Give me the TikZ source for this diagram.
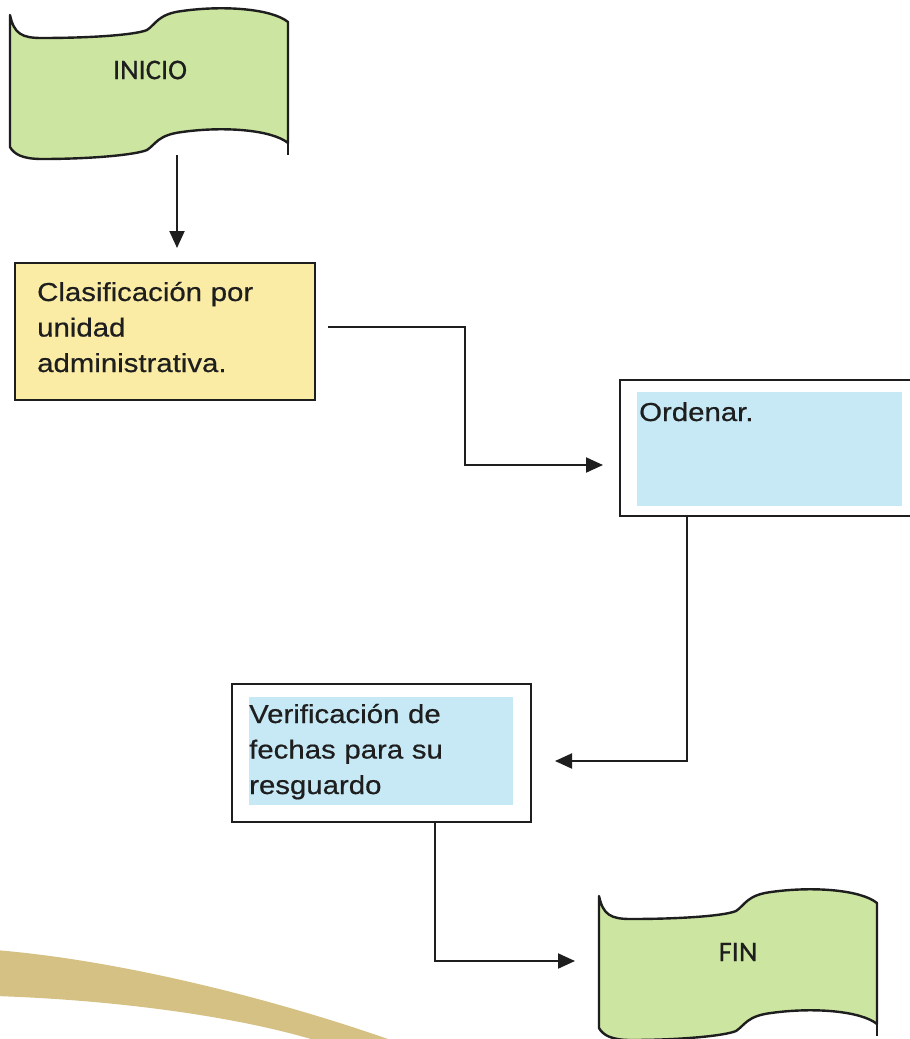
\documentclass[tikz,border=0pt]{standalone}
\usepackage{fontspec}
\setmainfont{Liberation Sans}
\newfontfamily\arialx[FakeStretch=1.13,FakeBold=0.6]{Liberation Sans}
\newfontfamily\calib[FakeBold=0.6]{Carlito}
\usetikzlibrary{arrows.meta,calc}
\definecolor{boxyellow}{RGB}{251,236,165}
\definecolor{tapegreen}{RGB}{204,229,160}
\definecolor{boxblue}{RGB}{199,233,246}
\definecolor{swooshtan}{RGB}{214,193,133}
\definecolor{ink}{RGB}{30,30,30}
\tikzset{
  tapeline/.style={draw=ink, line width=2.4pt, fill=tapegreen, line join=round},
  boxframe/.style={draw=ink, line width=2.4pt, rectangle, inner sep=0pt, outer sep=0pt, anchor=north west},
  boxtext/.style={font=\arialx\fontsize{26}{35.5}\selectfont, text=ink, inner sep=0pt, anchor=base west, text width=290pt, align=left},
  tapetext/.style={font=\calib\fontsize{28.5}{32}\selectfont, text=ink, inner sep=0pt},
  flow/.style={draw=ink, line width=2pt, -{Triangle[length=17pt,width=15pt]}},
}
\newcommand{\tapeoutline}{%
  \path[tapeline] (0,7) .. controls (4,26) and (12,30) .. (32,30)
    .. controls (80,30) and (125,27) .. (137,22)
    .. controls (146,16) and (148,6) .. (172,3)
    .. controls (215,-3) and (262,1) .. (278,14)
    -- (278,135)
    .. controls (262,122) and (215,118) .. (172,124)
    .. controls (148,127) and (146,136) .. (137,142)
    .. controls (125,147) and (80,151) .. (32,151)
    .. controls (12,151) and (4,146) .. (0,139) -- cycle;
  \draw[draw=ink, line width=2.4pt] (278,134) -- (278,147);
}
\begin{document}
\begin{tikzpicture}[x=1pt,y=-1pt]
\useasboundingbox (0,0) rectangle (910,1039);
\clip (0,0) rectangle (910,1039);
\fill[white] (0,0) rectangle (910,1039);
% decorative swoosh
\fill[swooshtan] (-5,950) .. controls (120,960) and (280,1000) .. (405,1045)
  -- (330,1045) .. controls (250,1018) and (120,1000) .. (-5,996) -- cycle;
% start
\begin{scope}[shift={(10,8)}]\tapeoutline\end{scope}
\node[tapetext] (ini) at (150,70) {INICIO};
% step 1
\node[boxframe, fill=boxyellow, minimum width=300pt, minimum height=137pt] (c1) at (15,263) {};
\node[boxtext] (t1) at (37,301) {Clasificación por\\unidad\\administrativa.};
% step 2
\node[boxframe, fill=white, minimum width=310pt, minimum height=136pt] (ord) at (620,380) {};
\fill[boxblue] ($(ord.north west)+(17,12)$) rectangle ($(ord.north west)+(282,126)$);
\node[boxtext] (t2) at (639,421) {Ordenar.};
% step 3
\node[boxframe, fill=white, minimum width=299pt, minimum height=138pt] (ver) at (232,684) {};
\fill[boxblue] ($(ver.north west)+(17,13)$) rectangle ($(ver.north west)+(281,121)$);
\node[boxtext] (t3) at (249,723) {Verificación de\\fechas para su\\resguardo};
% end
\begin{scope}[shift={(599,889)}]\tapeoutline\end{scope}
\node[tapetext] (fin) at (738,952) {FIN};
% connectors
\draw[flow] ($(ini)+(27,85)$) -- ($(c1.north)+(12,-15)$);
\draw[flow] ($(c1.east)+(13,-4.5)$) -- ++(137,0) |- ($(ord.west)+(-17,17)$);
\draw[flow] ($(ord.south west)+(67,0)$) |- ($(ver.east)+(24,8)$);
\draw[flow] ($(ver.south)+(53.5,0)$) |- ($(fin)+(-163,9)$);
\end{tikzpicture}
\end{document}
